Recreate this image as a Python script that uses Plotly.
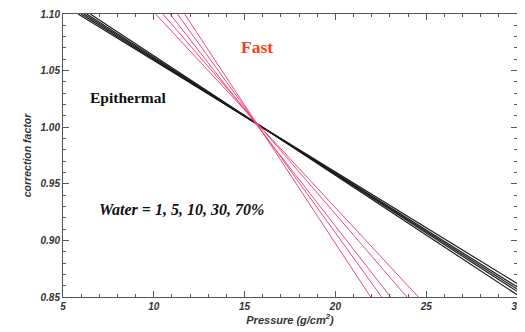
import plotly.graph_objects as go

# Epithermal (black) lines: endpoints
epi_x_start = [5.83, 6.0, 6.15, 6.3, 6.5]
epi_y_start = [1.10, 1.10, 1.10, 1.10, 1.10]
epi_x_end = [30, 30, 30, 30, 30]
epi_y_end = [0.862, 0.859, 0.857, 0.855, 0.852]

# Fast (red) lines
fast_x_start = [10.1, 10.5, 10.9, 11.3, 11.7]
fast_y_start = [1.10, 1.10, 1.10, 1.10, 1.10]
fast_x_end = [24.57, 23.94, 23.04, 22.55, 21.94]
fast_y_end = [0.85, 0.85, 0.85, 0.85, 0.85]

x_ticks = [5, 10, 15, 20, 25, 30]
y_ticks = [0.85, 0.90, 0.95, 1.00, 1.05, 1.10]
y_tick_labels = ["0.85", "0.90", "0.95", "1.00", "1.05", "1.10"]

fig = go.Figure()
for xs, ys, xe, ye in zip(epi_x_start, epi_y_start, epi_x_end, epi_y_end):
    fig.add_trace(go.Scatter(x=[xs, xe], y=[ys, ye], mode="lines",
                             line=dict(color="#1a1a1a", width=1.2), showlegend=False))
for xs, ys, xe, ye in zip(fast_x_start, fast_y_start, fast_x_end, fast_y_end):
    fig.add_trace(go.Scatter(x=[xs, xe], y=[ys, ye], mode="lines",
                             line=dict(color="#f04a76", width=1), showlegend=False))

tickfont = dict(family="Liberation Sans, Arial, sans-serif", size=10, color="#333333",
                style="italic", weight="bold")
axis_common = dict(showgrid=False, zeroline=False, showline=True, linecolor="#555555",
                   linewidth=1, mirror="ticks", ticks="inside", ticklen=6, tickwidth=1,
                   tickcolor="#555555", tickfont=tickfont, automargin=False)

fig.update_xaxes(range=[5, 30], tickvals=x_ticks, ticktext=[str(v) for v in x_ticks],
                 minor=dict(dtick=1, ticks="inside", ticklen=3, tickcolor="#555555"),
                 title=dict(text="Pressure (g/cm<sup>2</sup>)", standoff=0,
                            font=dict(family="Liberation Sans, Arial, sans-serif", size=11,
                                      color="#333333", style="italic", weight="bold")),
                 **axis_common)
fig.update_yaxes(range=[0.85, 1.10], tickvals=y_ticks, ticktext=y_tick_labels,
                 minor=dict(dtick=0.01, ticks="inside", ticklen=3, tickcolor="#555555"),
                 title=dict(text="correction factor", standoff=6,
                            font=dict(family="Liberation Sans, Arial, sans-serif", size=10.5,
                                      color="#333333", style="italic", weight="bold")),
                 **axis_common)

serif = "Liberation Serif, Times New Roman, serif"
fig.add_annotation(x=15.68, y=1.0712, text="<b>Fast</b>", showarrow=False,
                   font=dict(family=serif, size=17.5, color="#ff3a14"))
fig.add_annotation(x=6.38, y=1.026, text="<b>Epithermal</b>", showarrow=False, xanchor="left",
                   font=dict(family=serif, size=15.5, color="#111111"))
fig.add_annotation(x=6.87, y=0.9275, text="<b><i>Water = 1, 5, 10, 30, 70%</i></b>",
                   showarrow=False, xanchor="left",
                   font=dict(family=serif, size=16, color="#111111"))

# page body has an 8px default margin, so the figure is sized/margined to compensate
fig.update_layout(width=517, height=324, margin=dict(l=55, r=8, t=6, b=35, autoexpand=False),
                  paper_bgcolor="white", plot_bgcolor="white")

fig.write_html("out.html")
